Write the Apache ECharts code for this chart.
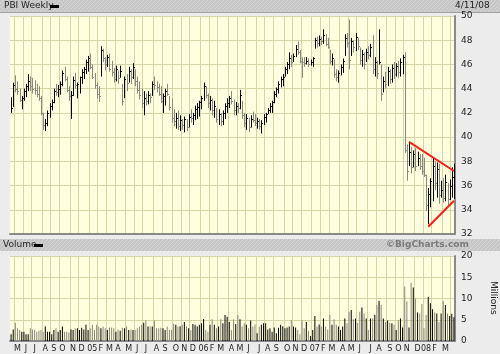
<!DOCTYPE html>
<html>
<head>
<meta charset="utf-8">
<script src="https://cdn.jsdelivr.net/npm/echarts@6/dist/echarts.min.js"></script>
<style>
  * { margin: 0; padding: 0; }
  body { background: #e8e8e8; }
  #chart { width: 500px; height: 354px; }
</style>
</head>
<body>
<div id="chart"></div>
<script>
  // weekly bars, first week ending 2004-04-23, last 2008-04-11
  var firstWeek = '2004-04-23'
  var highs = [
    43.3, 44.5, 45.1, 44.6, 44.0, 43.4, 44.0, 44.4, 45.2, 45.0, 44.9, 44.7, 44.4, 44.2, 43.4, 42.0, 41.5, 42.2, 42.8, 43.1,
    44.0, 44.4, 44.3, 44.6, 45.5, 45.8, 45.0, 44.2, 43.8, 45.0, 45.3, 44.5, 45.0, 45.6, 45.8, 46.4, 46.7, 46.9, 46.0, 45.3,
    44.5, 44.2, 47.5, 47.3, 46.6, 46.8, 46.9, 46.3, 45.7, 45.9, 45.5, 45.9, 44.4, 45.0, 45.2, 45.8, 45.6, 46.1, 45.6, 45.0,
    44.6, 44.0, 43.8, 43.6, 43.8, 43.6, 44.6, 45.0, 44.6, 44.4, 44.2, 43.6, 44.0, 44.4, 43.4, 43.2, 42.3, 42.0, 42.2, 41.8,
    41.5, 41.7, 41.5, 41.9, 42.3, 42.0, 42.6, 42.8, 43.0, 43.4, 44.5, 44.2, 43.6, 43.4, 43.2, 43.0, 42.4, 42.3, 42.0, 42.2,
    42.8, 43.2, 43.4, 43.8, 43.1, 42.9, 42.8, 43.9, 43.0, 42.0, 41.9, 41.6, 41.8, 42.1, 41.9, 41.6, 41.5, 41.4, 41.9, 42.0,
    42.4, 42.8, 43.0, 43.8, 44.1, 44.6, 45.0, 45.2, 45.8, 46.2, 47.0, 46.8, 46.9, 47.6, 47.9, 47.2, 46.6, 46.6, 46.6, 46.5,
    46.4, 46.6, 48.2, 48.3, 48.4, 48.3, 48.9, 48.5, 48.2, 47.2, 46.9, 46.4, 45.6, 45.5, 46.0, 46.5, 48.5, 48.6, 49.7, 48.2,
    48.0, 48.6, 48.2, 47.4, 47.2, 47.0, 47.3, 47.5, 47.7, 48.4, 46.6, 46.3, 48.9, 46.0, 45.0, 45.4, 45.8, 45.6, 46.0, 46.2,
    46.1, 46.3, 46.5, 46.8, 47.0, 39.4, 39.6, 39.2, 38.9, 39.1, 38.8, 38.6, 38.6, 38.3, 36.9, 35.8, 36.6, 38.3, 38.0, 37.9,
    37.8, 36.4, 36.6, 36.9, 36.2, 36.5, 37.5, 37.8
  ]
  var lows = [
    42.0, 42.5, 43.7, 43.5, 42.9, 42.3, 43.0, 43.3, 43.8, 43.8, 43.6, 43.5, 43.3, 43.0, 41.8, 40.6, 40.5, 40.9, 41.6, 42.2,
    42.8, 43.4, 43.3, 43.5, 44.2, 44.6, 43.7, 43.0, 41.5, 43.4, 44.0, 43.2, 43.6, 44.4, 44.8, 45.2, 45.4, 45.6, 44.8, 44.0,
    43.2, 42.9, 45.0, 46.2, 45.5, 45.8, 45.4, 45.0, 44.5, 44.6, 44.4, 44.9, 42.6, 43.2, 43.8, 44.5, 44.4, 44.8, 44.2, 43.6,
    43.1, 42.4, 41.8, 42.6, 42.7, 42.8, 43.4, 43.9, 43.7, 43.4, 42.8, 42.0, 42.6, 43.4, 42.2, 41.2, 40.9, 40.7, 40.6, 40.5,
    40.6, 40.4, 40.5, 40.8, 41.2, 41.0, 41.4, 41.5, 41.7, 42.3, 43.0, 43.2, 42.4, 42.2, 41.8, 41.6, 41.2, 41.0, 40.9, 41.0,
    41.5, 42.0, 42.4, 42.7, 41.8, 41.8, 42.0, 42.3, 41.5, 40.8, 40.6, 40.4, 40.8, 41.2, 40.9, 40.7, 40.6, 40.3, 41.0, 41.2,
    41.9, 42.0, 42.0, 42.8, 43.3, 43.6, 44.1, 44.2, 45.0, 45.2, 45.6, 45.8, 46.2, 46.6, 46.8, 46.1, 44.9, 45.8, 46.0, 45.8,
    45.9, 45.8, 47.3, 47.4, 47.5, 47.6, 47.7, 47.5, 47.3, 46.0, 45.9, 44.9, 44.6, 44.5, 45.1, 45.3, 46.7, 47.4, 45.6, 46.7,
    47.0, 47.1, 47.2, 46.0, 45.8, 45.6, 46.2, 46.4, 46.6, 45.2, 45.0, 44.8, 46.0, 43.0, 43.7, 44.0, 44.2, 44.4, 44.5, 44.8,
    45.0, 44.9, 45.0, 45.2, 38.7, 36.4, 37.6, 37.0, 37.5, 37.2, 37.6, 37.3, 36.9, 36.7, 33.9, 32.8, 34.2, 34.7, 35.6, 35.0,
    34.5, 35.0, 34.6, 34.7, 34.4, 34.8, 35.0, 34.9
  ]
  var closes = [
    42.4, 44.3, 44.0, 43.8, 43.1, 43.2, 43.8, 44.2, 44.6, 44.2, 44.0, 43.9, 43.6, 43.2, 42.0, 41.0, 41.2, 42.0, 42.6, 42.9,
    43.8, 43.7, 44.0, 44.4, 45.3, 44.8, 43.9, 43.4, 43.5, 44.7, 44.3, 44.4, 45.0, 45.4, 45.6, 46.2, 46.5, 45.8, 45.0, 44.3,
    43.6, 43.4, 47.2, 46.5, 46.0, 46.6, 45.6, 45.4, 44.8, 45.6, 44.9, 45.5, 43.0, 44.8, 44.5, 45.5, 45.0, 45.8, 44.6, 43.9,
    43.5, 42.8, 43.2, 43.0, 43.5, 43.3, 44.4, 44.3, 44.1, 43.6, 43.0, 43.4, 43.8, 43.6, 42.5, 41.6, 41.3, 41.6, 40.9, 41.4,
    41.0, 41.5, 40.8, 41.7, 41.6, 41.8, 42.3, 42.5, 42.9, 43.2, 44.2, 43.5, 42.8, 43.1, 42.2, 42.6, 41.5, 41.9, 41.3, 42.0,
    42.6, 42.8, 43.2, 43.0, 42.2, 42.6, 42.4, 43.5, 41.8, 41.2, 41.6, 40.8, 41.5, 41.4, 41.2, 41.3, 40.9, 41.2, 41.7, 41.9,
    42.2, 42.6, 42.9, 43.6, 44.0, 44.4, 44.8, 45.0, 45.6, 46.0, 46.5, 46.2, 46.7, 47.3, 47.0, 46.3, 46.2, 46.1, 46.3, 46.0,
    46.2, 46.5, 48.0, 47.8, 48.1, 47.9, 48.4, 47.7, 47.4, 46.3, 46.5, 45.2, 45.0, 45.3, 45.8, 46.3, 48.2, 47.8, 46.4, 47.9,
    47.4, 48.3, 47.5, 46.4, 46.9, 46.0, 47.0, 46.8, 47.4, 45.6, 46.2, 45.3, 46.2, 43.6, 44.6, 44.4, 45.5, 44.8, 45.7, 45.2,
    45.9, 45.4, 46.2, 46.6, 38.9, 37.2, 38.8, 37.5, 38.6, 37.6, 38.3, 37.6, 37.2, 36.9, 34.4, 35.3, 36.4, 37.6, 36.2, 37.4,
    35.2, 35.6, 35.0, 36.3, 34.9, 36.0, 36.7, 37.2
  ]
  // volume, millions of shares
  var volumes = [
    1.6, 2.7, 4.3, 3.0, 2.6, 2.2, 2.2, 1.6, 1.6, 3.0, 2.7, 2.6, 2.2, 2.4, 2.6, 2.2, 3.4, 2.2, 2.2, 1.6,
    2.6, 3.0, 2.2, 2.6, 3.4, 2.2, 2.2, 2.0, 2.7, 2.6, 3.0, 3.0, 2.6, 3.1, 2.7, 3.8, 2.6, 3.0, 3.8, 2.6,
    3.8, 3.4, 3.0, 3.4, 3.0, 2.6, 3.2, 3.2, 3.0, 2.2, 2.7, 2.4, 3.1, 3.0, 3.4, 2.6, 2.7, 2.6, 2.6, 3.0,
    3.4, 3.8, 4.3, 4.8, 3.4, 3.4, 3.4, 4.8, 3.0, 3.0, 3.1, 3.0, 2.6, 3.4, 2.6, 2.6, 4.0, 3.8, 3.4, 3.5,
    3.8, 4.5, 3.4, 3.0, 2.6, 4.0, 3.8, 3.4, 3.8, 4.2, 5.2, 2.6, 2.2, 3.8, 5.1, 3.8, 3.0, 3.4, 5.1, 4.2,
    6.1, 5.7, 4.5, 2.6, 5.1, 4.0, 6.1, 5.1, 3.4, 4.2, 3.8, 3.0, 4.8, 3.4, 3.9, 1.8, 3.4, 3.8, 4.2, 4.2,
    2.7, 3.0, 2.2, 3.2, 1.8, 3.1, 3.8, 3.5, 3.0, 3.2, 3.4, 4.9, 3.4, 3.2, 2.6, 1.6, 4.9, 3.0, 4.5, 2.4,
    1.2, 2.6, 5.9, 3.4, 3.9, 3.4, 5.3, 3.4, 2.7, 6.1, 3.8, 5.1, 3.8, 3.4, 2.6, 3.4, 5.3, 4.2, 6.9, 7.3,
    5.1, 5.3, 4.3, 6.9, 7.9, 6.5, 5.3, 2.6, 5.3, 5.3, 6.1, 8.5, 9.4, 8.5, 5.3, 4.5, 4.8, 4.3, 4.2, 3.8,
    2.6, 4.9, 5.3, 3.2, 12.8, 9.3, 3.2, 13.7, 12.6, 10.0, 6.7, 6.4, 8.7, 3.0, 6.1, 10.4, 8.9, 7.5, 6.7, 6.5,
    4.5, 6.5, 9.4, 8.5, 6.5, 5.9, 6.4, 5.6
  ]
  // hand-drawn trend lines: [week index, price]
  var upperTrend = [[186, 39.6], [207, 37.2]]
  var lowerTrend = [[195, 32.6], [207, 34.75]]

  var monthLetters = ['', 'F', 'M', 'A', 'M', 'J', 'J', 'A', 'S', 'O', 'N', 'D']

  var weeks = []
  var d0 = new Date(firstWeek + 'T12:00:00Z')
  for (var k = 0; k < highs.length; k++) {
    var d = new Date(d0.getTime() + k * 7 * 86400000)
    weeks.push(d.toISOString().slice(0, 10))
  }
  function dayOf(v) { return parseInt(v.slice(8, 10), 10) }
  function monthStart(i, v) { return dayOf(v) <= 7 }
  function monthLabel(i, v) {
    var dd = dayOf(v)
    return dd >= 8 && dd <= 14 && i < weeks.length - 3
  }
  function fmtMonth(v) {
    var m = parseInt(v.slice(5, 7), 10) - 1
    return m === 0 ? v.slice(2, 4) : monthLetters[m]
  }
  function barColor(i) {
    if (i === 0) return '#000'
    return closes[i] >= closes[i - 1] ? '#000' : '#88887c'
  }

  var ohlc = []
  for (var j = 0; j < highs.length; j++) {
    ohlc.push([j, highs[j], lows[j], closes[j]])
  }

  function renderBar(params, api) {
    var i = api.value(0)
    var top = api.coord([i, api.value(1)])
    var bot = api.coord([i, api.value(2)])
    var cl = api.coord([i, api.value(3)])
    var x = Math.round(top[0]) + 0.5
    var cy = Math.round(cl[1]) + 0.5
    var col = barColor(params.dataIndex)
    return {
      type: 'group',
      children: [
        {type: 'line', shape: {x1: x, y1: top[1], x2: x, y2: bot[1]}, style: {stroke: col, lineWidth: 1}},
        {type: 'line', shape: {x1: x, y1: cy, x2: x + 1.5, y2: cy}, style: {stroke: col, lineWidth: 1}}
      ]
    }
  }

  // diagonal hatch for the panel headers
  var hatch = document.createElement('canvas')
  hatch.width = 4
  hatch.height = 4
  var hc = hatch.getContext('2d')
  hc.fillStyle = '#c6c6c6'
  hc.fillRect(0, 0, 4, 4)
  hc.fillStyle = '#d6d6d6'
  for (var h = 0; h < 4; h++) hc.fillRect(h, 3 - h, 1, 1)

  var gridLine = {show: true, lineStyle: {color: '#d6d6a4', width: 1}}
  var font = 'DejaVu Sans'

  var chart = echarts.init(document.getElementById('chart'))
  chart.setOption({
    animation: false,
    backgroundColor: '#ececec',
    textStyle: {fontFamily: font},
    grid: [
      {left: 10, top: 16, width: 445, height: 218, show: true, backgroundColor: '#ffffdf', borderWidth: 0},
      {left: 10, top: 256, width: 445, height: 85, show: true, backgroundColor: '#ffffdf', borderWidth: 0}
    ],
    xAxis: [
      {
        type: 'category', gridIndex: 0, data: weeks, boundaryGap: true,
        axisLine: {show: true, lineStyle: {color: '#8a8a8a', width: 2}},
        axisTick: {show: false}, axisLabel: {show: false},
        splitLine: {show: true, interval: monthStart, lineStyle: {color: '#d6d6a4'}}
      },
      {
        type: 'category', gridIndex: 1, data: weeks, boundaryGap: true,
        axisLine: {show: true, lineStyle: {color: '#8a8a8a', width: 2}},
        axisTick: {show: false},
        axisLabel: {interval: monthLabel, formatter: fmtMonth, color: '#222', fontSize: 8, margin: 4},
        splitLine: {show: true, interval: monthStart, lineStyle: {color: '#d6d6a4'}}
      }
    ],
    yAxis: [
      {
        type: 'value', gridIndex: 0, position: 'right', min: 32, max: 50, interval: 2,
        axisLine: {show: true, lineStyle: {color: '#8a8a8a', width: 2}},
        axisTick: {show: false},
        axisLabel: {color: '#222', fontSize: 9, margin: 6},
        splitLine: gridLine
      },
      {
        type: 'value', gridIndex: 1, position: 'right', min: 0, max: 20, interval: 5,
        axisLine: {show: true, lineStyle: {color: '#8a8a8a', width: 2}},
        axisTick: {show: false},
        axisLabel: {color: '#222', fontSize: 9, margin: 6},
        splitLine: gridLine
      }
    ],
    series: [
      {
        type: 'custom', xAxisIndex: 0, yAxisIndex: 0,
        renderItem: renderBar, data: ohlc,
        encode: {x: 0, y: [1, 2, 3]}, clip: true
      },
      {
        type: 'line', xAxisIndex: 0, yAxisIndex: 0, data: upperTrend,
        symbol: 'none', lineStyle: {color: '#ff1a1a', width: 2}
      },
      {
        type: 'line', xAxisIndex: 0, yAxisIndex: 0, data: lowerTrend,
        symbol: 'none', lineStyle: {color: '#ff1a1a', width: 2}
      },
      {
        type: 'bar', xAxisIndex: 1, yAxisIndex: 1, data: volumes, barWidth: 1,
        itemStyle: {color: function (p) { return barColor(p.dataIndex) }}
      }
    ],
    graphic: [
      {type: 'rect', x: 0, y: 0, shape: {width: 500, height: 12}, style: {fill: {image: hatch, repeat: 'repeat'}}},
      {type: 'rect', x: 0, y: 12, shape: {width: 500, height: 1}, style: {fill: '#a0a0a0'}},
      {type: 'text', x: 4, y: 1, style: {text: 'PBI Weekly', font: '9px ' + font, fill: '#222'}},
      {type: 'rect', x: 50, y: 5, shape: {width: 9, height: 3}, style: {fill: '#000'}},
      {type: 'text', x: 455, y: 1, style: {text: '4/11/08', font: '9px ' + font, fill: '#222'}},
      {type: 'rect', x: 0, y: 239, shape: {width: 500, height: 12}, style: {fill: {image: hatch, repeat: 'repeat'}}},
      {type: 'text', x: 3, y: 240, style: {text: 'Volume', font: '9px ' + font, fill: '#222'}},
      {type: 'rect', x: 34, y: 244, shape: {width: 9, height: 3}, style: {fill: '#000'}},
      {type: 'text', x: 386, y: 240, style: {text: '\u00a9BigCharts.com', font: 'bold 9px ' + font, fill: '#7a7a7a'}},
      {type: 'text', x: 493, y: 281, rotation: -Math.PI / 2,
        style: {text: 'Millions', font: '9px ' + font, fill: '#222', align: 'left', verticalAlign: 'middle'}}
    ]
  })
</script>
</body>
</html>
